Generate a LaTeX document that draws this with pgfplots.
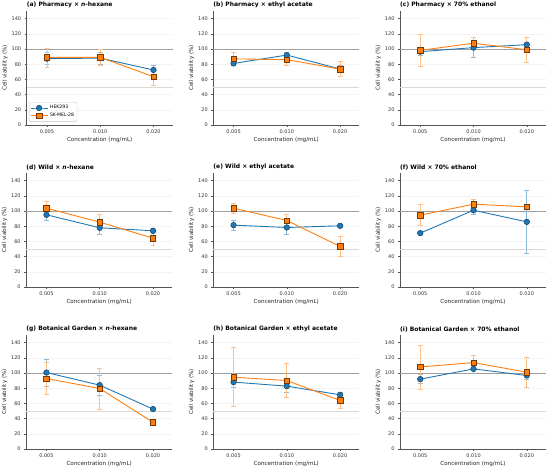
\documentclass[border=0pt]{standalone}
\usepackage{pgfplots}
\pgfplotsset{compat=1.18}
\usepackage{pgfplotstable}
\usepackage{fontspec}
\setmainfont{DejaVu Sans}
\definecolor{cb}{HTML}{1F77B4}
\definecolor{co}{HTML}{FF7F0E}
\definecolor{cbl}{HTML}{8FBBDA}
\definecolor{col}{HTML}{FFBF86}
\definecolor{axc}{HTML}{555555}

\pgfplotstableread{
x b be o oe
0 87.3 8 89 12.5
1 88 8 89 10
2 72.4 6.5 63.6 11
}\tA
\pgfplotstableread{
x b be o oe
0 81 3 87 8.5
1 92 3 86 7.5
2 73.7 5 73.5 10
}\tB
\pgfplotstableread{
x b be o oe
0 96.5 5 98.2 21
1 101.8 13 107.6 8
2 105.7 9 99 16
}\tC
\pgfplotstableread{
x b be o oe
0 95 7 103.7 9
1 77.9 8 85.3 10
2 74 3 64.3 10
}\tD
\pgfplotstableread{
x b be o oe
0 81.4 6.5 103.7 6.5
1 78.3 8.5 87.5 8.5
2 80.5 2 53.4 13
}\tE
\pgfplotstableread{
x b be o oe
0 70.9 2 94.5 14
1 101 5.5 109 6.5
2 85.7 41 105.4 3
}\tF
\pgfplotstableread{
x b be o oe
0 100.6 18 92.7 21
1 84 13 79.6 27
2 52.5 2 35 2
}\tG
\pgfplotstableread{
x b be o oe
0 88 7 94.5 39
1 82.7 8 90.1 22
2 71.3 3 63.9 11
}\tH
\pgfplotstableread{
x b be o oe
0 91.9 6 108 29
1 105.4 6.5 113.7 10
2 96.7 5 101 20
}\tI

\pgfplotsset{
  panel/.style={
    anchor=south west,
    scale only axis,
    width=146pt, height=114pt,
    xmin=-0.38, xmax=2.36,
    ymin=0, ymax=150,
    xtick={0,1,2},
    xticklabels={0.005,0.010,0.020},
    ytick={0,20,...,140},
    axis x line*=bottom,
    axis y line*=left,
    axis line style={axc, line width=0.6pt},
    tick style={axc, line width=0.5pt},
    tick align=outside,
    major tick length=2pt,
    ymajorgrids,
    major grid style={gray!18, line width=0.3pt, dash pattern=on 1pt off 1pt},
    /pgf/number format/assume math mode=true,
    ticklabel style={font=\fontsize{5}{6}\selectfont, text=black!80},
    xticklabel style={yshift=0.5pt},
    xlabel={Concentration (mg/mL)},
    ylabel={Cell viability (\%)},
    label style={font=\fontsize{5.6}{6.5}\selectfont, text=black!85},
    xlabel style={yshift=3pt},
    ylabel style={yshift=-3pt},
    title style={at={(0,1)}, anchor=south west, inner sep=0pt, yshift=-3.3pt,
      font=\bfseries\fontsize{6}{7}\selectfont},
    clip=false,
  },
  errb/.style={forget plot, only marks, mark=none, color=#1, line width=0.7pt,
    error bars/.cd, y dir=both, y explicit, error mark=-,
    error bar style={color=#1, line width=0.7pt},
    error mark options={rotate=90, color=#1, mark size=2.4pt, line width=0.7pt}},
  lineb/.style={cb, line width=0.9pt, mark=*, mark size=2.8pt,
    mark options={fill=cb, draw=cb!55!black, line width=0.5pt}},
  lineo/.style={co, line width=0.9pt, mark=square*, mark size=2.7pt,
    mark options={fill=co, draw=co!45!black, line width=0.5pt}},
}

\newcommand{\panel}[5]{%
\begin{axis}[panel, at={(#1,#2)}, title={#3}, #5]
  \addplot[forget plot, gray!30, line width=0.7pt] coordinates {(-0.38,50) (2.36,50)};
  \addplot[forget plot, gray!75, line width=0.7pt] coordinates {(-0.38,100) (2.36,100)};
  \addplot[errb=cbl] table[x=x, y=b, y error=be] {#4};
  \addplot[errb=col] table[x=x, y=o, y error=oe] {#4};
  \addplot[lineb] table[x=x, y=b] {#4};
  \addplot[lineo] table[x=x, y=o] {#4};
\end{axis}}

\begin{document}
\begin{tikzpicture}
\useasboundingbox (0,0) rectangle (550pt,469pt);
\panel{26.7pt}{344pt}{(a) Pharmacy × \textit{n}-hexane}{\tA}{legend entries={HEK293,SK-MEL-28},
  legend style={at={(0.015,0.03)}, anchor=south west, font=\fontsize{4.6}{5.2}\selectfont,
  draw=gray!45, rounded corners=1pt, inner sep=1pt, row sep=-1pt}, legend cell align=left}
\panel{213.3pt}{344pt}{(b) Pharmacy × ethyl acetate}{\tB}{}
\panel{400pt}{344pt}{(c) Pharmacy × 70\% ethanol}{\tC}{}
\panel{26.2pt}{182pt}{(d) Wild × \textit{n}-hexane}{\tD}{}
\panel{213.3pt}{182pt}{(e) Wild × ethyl acetate}{\tE}{}
\panel{400pt}{182pt}{(f) Wild × 70\% ethanol}{\tF}{}
\panel{26.2pt}{20pt}{(g) Botanical Garden × \textit{n}-hexane}{\tG}{}
\panel{213.3pt}{20pt}{(h) Botanical Garden × ethyl acetate}{\tH}{}
\panel{400pt}{20pt}{(i) Botanical Garden × 70\% ethanol}{\tI}{}
\end{tikzpicture}
\end{document}
